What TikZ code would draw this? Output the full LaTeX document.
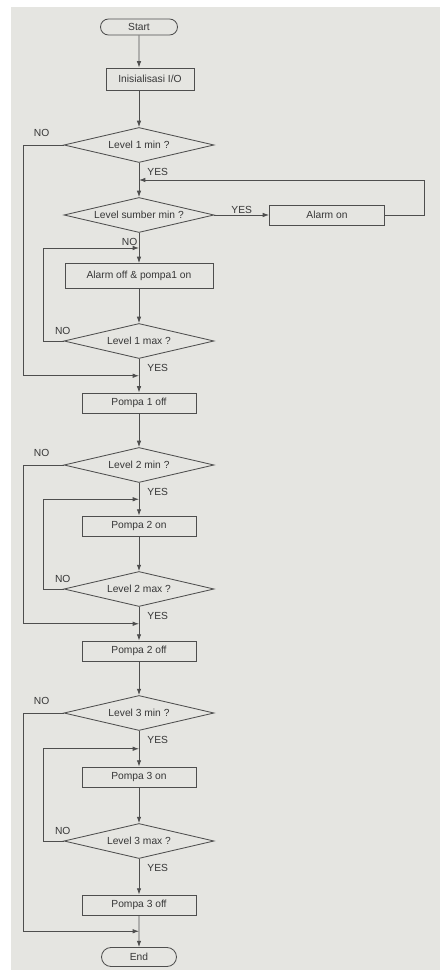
\documentclass[tikz,border=0pt]{standalone}
\usepackage{fontspec}
\setmainfont{Liberation Sans}
\usetikzlibrary{shapes.geometric,shapes.misc,arrows.meta,calc}
\definecolor{paper}{RGB}{229,229,225}
\definecolor{ink}{RGB}{78,78,78}
\definecolor{txt}{RGB}{55,55,55}
\begin{document}
\begin{tikzpicture}[x=0.025cm, y=-0.025cm,
    every node/.style={font=\fontsize{7.3}{8.5}\selectfont, text=txt},
    >={Latex[length=4.5pt,width=3.2pt]},
    line/.style={draw=ink, line width=0.6pt},
    term/.style={line, rounded rectangle, minimum width=1.925cm, minimum height=0.4cm, inner sep=0pt},
    proc/.style={line, rectangle, minimum width=2.85cm, minimum height=0.5cm, inner sep=0pt},
    test/.style={line, diamond, aspect=4, minimum width=3.75cm, minimum height=0.875cm, inner sep=0pt},
    lbl/.style={inner sep=1pt},
    yeslbl/.style={lbl, anchor=north west, xshift=0.17cm, yshift=-0.1cm}]
  % page
  \useasboundingbox (0,0) rectangle (440,970);
  \fill[white] (0,0) rectangle (440,970);
  \fill[paper] (11,7) rectangle (440,970);

  \node[term] (start) at (139,27) {Start};
  \node[proc, minimum width=2.2cm, minimum height=0.55cm] (init) at (150,79) {Inisialisasi I/O};
  \node[test] (lv1min) at (139,145) {Level 1 min ?};
  \node[test] (lvsum) at (139,215) {Level sumber min ?};
  \node[proc, minimum width=2.875cm] (alarm) at (327,215) {Alarm on};
  \node[proc, minimum width=3.7cm, minimum height=0.625cm] (alarmoff) at (139,276) {Alarm off \& pompa1 on};
  \node[test] (lv1max) at (139,341) {Level 1 max ?};
  \node[proc] (p1off) at (139,403) {Pompa 1 off};
  \node[test] (lv2min) at (139,465) {Level 2 min ?};
  \node[proc] (p2on) at (139,526) {Pompa 2 on};
  \node[test] (lv2max) at (139,589) {Level 2 max ?};
  \node[proc] (p2off) at (139,651) {Pompa 2 off};
  \node[test] (lv3min) at (139,713) {Level 3 min ?};
  \node[proc] (p3on) at (139,777) {Pompa 3 on};
  \node[test] (lv3max) at (139,841) {Level 3 max ?};
  \node[proc] (p3off) at (139,905) {Pompa 3 off};
  \node[term, minimum width=1.875cm, minimum height=0.475cm] (end) at (139,957) {End};

  % joins on the main line
  \coordinate (j1) at ($(lv1min.south)!.5!(lvsum.north)$);
  \coordinate (j2) at ($(lvsum.south)!.5!(alarmoff.north)$);
  \coordinate (j3) at ($(lv1max.south)!.5!(p1off.north)$);
  \coordinate (j4) at ($(lv2min.south)!.5!(p2on.north)$);
  \coordinate (j5) at ($(lv2max.south)!.5!(p2off.north)$);
  \coordinate (j6) at ($(lv3min.south)!.5!(p3on.north)$);
  \coordinate (j7) at ($(p3off.south)!.5!(end.north)$);

  \draw[line,->] (start) -- (start |- init.north);
  \draw[line,->] (init.south -| lv1min) -- (lv1min);
  \foreach \a/\b in {lv1min/lvsum, lvsum/alarmoff, alarmoff/lv1max, lv1max/p1off,
      p1off/lv2min, lv2min/p2on, p2on/lv2max, lv2max/p2off,
      p2off/lv3min, lv3min/p3on, p3on/lv3max, lv3max/p3off, p3off/end}
    \draw[line,->] (\a) -- (\b);

  % alarm branch
  \draw[line,->] (lvsum) -- node[lbl, above] (yes-sum) {YES} (alarm);
  \draw[line,->] (alarm.east) -- ++(39,0) |- (j1);
  \node[lbl, anchor=north east, yshift=-0.1cm] (no-sum) at (lvsum.south) {NO};

  % NO loops
  \foreach \d/\j in {lv1min/j3, lv2min/j5, lv3min/j7}{
    \draw[line,->] (\d.west) -- ++(-40,0) |- (\j);
    \node[lbl, anchor=south] (no-\d) at ([xshift=-0.55cm, yshift=0.18cm]\d.west) {NO};
  }
  \foreach \d/\j in {lv1max/j2, lv2max/j4, lv3max/j6}{
    \draw[line,->] (\d.west) -- ++(-20,0) |- (\j);
    \node[lbl, anchor=south] (no-\d) at ([xshift=-0.02cm, yshift=0.115cm]\d.west) {NO};
  }

  % YES labels
  \foreach \d in {lv1min, lv1max, lv2min, lv2max, lv3min, lv3max}
    \node[yeslbl] (yes-\d) at (\d.south) {YES};
\end{tikzpicture}
\end{document}
